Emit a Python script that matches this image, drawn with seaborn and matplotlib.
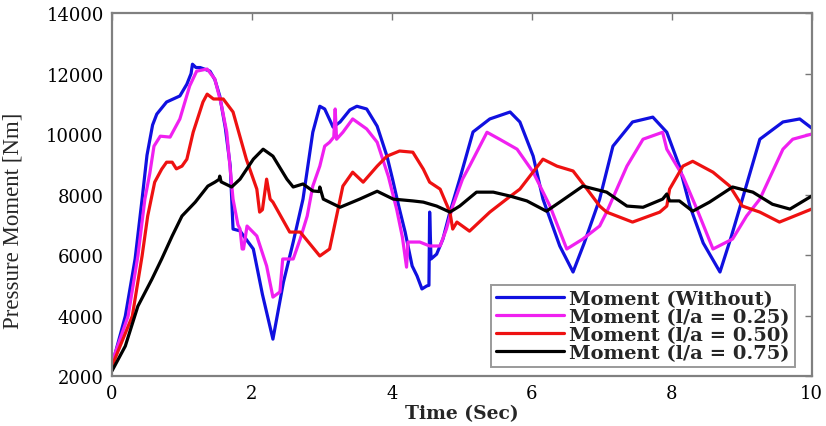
import matplotlib
matplotlib.use("Agg")
import matplotlib.pyplot as plt
import seaborn as sns
import pandas as pd

# ---- data ----
t_without = [0, 0.04, 0.19, 0.33, 0.43, 0.5, 0.58, 0.64, 0.78, 0.97, 1.07, 1.13, 1.15, 1.2, 1.26, 1.4, 1.47, 1.54,
             1.62, 1.69, 1.73, 1.83, 1.86, 2.02, 2.15, 2.3, 2.45, 2.59, 2.73, 2.87, 2.97, 3.04, 3.16, 3.26, 3.4,
             3.5, 3.64, 3.79, 3.93, 4.01, 4.1, 4.19, 4.29, 4.36, 4.43, 4.5, 4.53, 4.54, 4.56, 4.64, 4.73, 4.83,
             4.97, 5.16, 5.4, 5.69, 5.83, 6.02, 6.16, 6.4, 6.59, 6.75, 6.97, 7.16, 7.44, 7.73, 7.93, 8.11, 8.26,
             8.45, 8.69, 8.85, 9.01, 9.26, 9.59, 9.83, 10.0]
m_without = [2620, 2700, 3980, 5870, 7850, 9300, 10300, 10660, 11060, 11260, 11650, 12000, 12310, 12200, 12200,
             12080, 11800, 11260, 10200, 8940, 6860, 6800, 6700, 6200, 4700, 3220, 5100, 6430, 7850, 10060,
             10920, 10830, 10230, 10400, 10800, 10920, 10830, 10260, 9270, 8510, 7600, 6760, 5640, 5310, 4880,
             4980, 5000, 7420, 5870, 6030, 6530, 7420, 8510, 10070, 10500, 10730, 10400, 9270, 7850, 6300, 5440,
             6400, 7850, 9600, 10400, 10560, 10060, 8940, 7620, 6400, 5440, 6600, 7850, 9830, 10400, 10500,
             10200]

t_025 = [0, 0.23, 0.37, 0.47, 0.54, 0.6, 0.69, 0.83, 0.97, 1.11, 1.21, 1.36, 1.47, 1.56, 1.64, 1.73, 1.8, 1.83,
         1.86, 1.88, 1.93, 2.07, 2.21, 2.3, 2.4, 2.44, 2.59, 2.69, 2.79, 2.87, 2.97, 3.04, 3.11, 3.17, 3.19, 3.21,
         3.3, 3.44, 3.64, 3.79, 3.95, 4.07, 4.15, 4.21, 4.23, 4.4, 4.54, 4.69, 4.78, 4.87, 5.01, 5.11, 5.36,
         5.54, 5.79, 6.02, 6.26, 6.5, 6.73, 6.97, 7.07, 7.36, 7.59, 7.87, 7.93, 8.16, 8.36, 8.59, 8.87, 9.07,
         9.26, 9.59, 9.73, 10.0]
m_025 = [2460, 3980, 5970, 7850, 8700, 9600, 9930, 9900, 10500, 11590, 12080, 12150, 11820, 11000, 10060, 7850,
         7000, 6860, 6200, 6200, 6960, 6630, 5640, 4610, 4780, 5870, 5870, 6530, 7290, 8280, 8940, 9600, 9730,
         9900, 10830, 9830, 10060, 10500, 10170, 9730, 8600, 7500, 6600, 5600, 6430, 6430, 6300, 6300, 6860,
         7620, 8510, 8940, 10060, 9830, 9500, 8740, 7620, 6200, 6530, 6960, 7420, 8940, 9830, 10060, 9500, 8610,
         7520, 6200, 6530, 7290, 7850, 9500, 9830, 10000]

t_050 = [0, 0.29, 0.43, 0.51, 0.61, 0.71, 0.78, 0.86, 0.92, 1.0, 1.07, 1.16, 1.3, 1.36, 1.45, 1.59, 1.73, 1.92,
         2.07, 2.11, 2.15, 2.21, 2.26, 2.3, 2.54, 2.69, 2.97, 3.11, 3.21, 3.3, 3.44, 3.59, 3.79, 3.93, 4.11, 4.3,
         4.45, 4.54, 4.69, 4.83, 4.87, 4.93, 5.11, 5.4, 5.64, 5.83, 6.16, 6.36, 6.59, 6.79, 6.97, 7.07, 7.44,
         7.83, 7.93, 7.97, 8.16, 8.3, 8.59, 8.83, 9.01, 9.26, 9.54, 10.0]
m_050 = [2330, 3980, 5970, 7290, 8410, 8840, 9070, 9070, 8850, 8940, 9170, 10060, 11060, 11320, 11160, 11160,
         10730, 9170, 8180, 7420, 7500, 8510, 7850, 7750, 6760, 6760, 5970, 6200, 7290, 8280, 8740, 8410, 8940,
         9270, 9440, 9400, 8840, 8410, 8180, 7420, 6860, 7090, 6790, 7420, 7850, 8180, 9170, 8940, 8780, 8180,
         7620, 7420, 7090, 7420, 7620, 8180, 8940, 9100, 8740, 8280, 7620, 7420, 7090, 7520]

t_075 = [0, 0.19, 0.37, 0.57, 0.71, 0.86, 1.0, 1.19, 1.37, 1.47, 1.53, 1.54, 1.56, 1.71, 1.83, 2.02, 2.16, 2.3,
         2.5, 2.59, 2.73, 2.87, 2.96, 2.97, 3.02, 3.26, 3.54, 3.79, 4.02, 4.3, 4.45, 4.64, 4.83, 4.97, 5.21,
         5.45, 5.69, 5.93, 6.21, 6.4, 6.73, 7.07, 7.36, 7.59, 7.87, 7.93, 7.97, 8.11, 8.3, 8.54, 8.87, 9.16,
         9.44, 9.69, 10.0]
m_075 = [2170, 2990, 4310, 5200, 5870, 6630, 7290, 7750, 8280, 8410, 8500, 8610, 8420, 8250, 8510, 9170, 9500,
         9270, 8510, 8250, 8350, 8120, 8100, 8250, 7850, 7580, 7850, 8110, 7850, 7790, 7750, 7620, 7420, 7620,
         8080, 8080, 7950, 7790, 7450, 7750, 8280, 8080, 7620, 7580, 7850, 8020, 7790, 7790, 7450, 7750, 8250,
         8080, 7680, 7520, 7950]

labels = ["Moment (Without)", "Moment (l/a = 0.25)", "Moment (l/a = 0.50)", "Moment (l/a = 0.75)"]
colors = ["#1010e0", "#f020f0", "#ee1111", "#000000"]
x_ticks = [0, 2, 4, 6, 8, 10]
y_ticks = [2000, 4000, 6000, 8000, 10000, 12000, 14000]

series = [(t_without, m_without), (t_025, m_025), (t_050, m_050), (t_075, m_075)]

sns.set_style("white")
plt.rcParams["font.family"] = ["DejaVu Serif"]

fig = plt.figure(figsize=(8.26, 4.27), dpi=100)
ax = fig.add_axes([0.1356, 0.117, 0.847, 0.850])

for (t, m), lab, col in zip(series, labels, colors):
    df = pd.DataFrame({"t": t, "m": m})
    sns.lineplot(data=df, x="t", y="m", ax=ax, color=col, linewidth=2.3, label=lab,
                 sort=False, estimator=None)

ax.set_xlim(0, 10)
ax.set_ylim(2000, 14000)
ax.set_xticks(x_ticks)
ax.set_yticks(y_ticks)
ax.tick_params(direction="in", length=5, width=1, colors="#777777", labelcolor="black",
               labelsize=13, top=True, right=True, pad=6)
for s in ax.spines.values():
    s.set_color("#808080")
    s.set_linewidth(1.6)

ax.set_xlabel("Time (Sec)", fontsize=13.5, fontweight="bold", labelpad=1)
ax.set_ylabel("Pressure Moment [Nm]", fontsize=16.5, family="Liberation Serif")
ax.yaxis.set_label_coords(-0.127, 0.43)

leg = ax.legend(loc="lower right", bbox_to_anchor=(0.976, 0.025), borderaxespad=0,
                prop={"family": "DejaVu Serif", "weight": "bold", "size": 14},
                frameon=True, fancybox=False, edgecolor="#808080", handlelength=3.5,
                labelspacing=0.0, borderpad=0.25, handletextpad=0.3)
leg.get_frame().set_linewidth(1.4)

fig.savefig("out.png", dpi=100)
